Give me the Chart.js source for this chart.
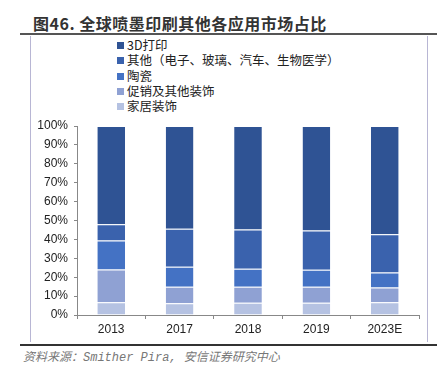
<!DOCTYPE html>
<html>
<head>
<meta charset="utf-8">
<script src="https://cdn.jsdelivr.net/npm/chart.js@4/dist/chart.umd.min.js"></script>
<style>
  body { margin: 0; width: 447px; height: 367px; background: #fff; position: relative; overflow: hidden; font-family: "Noto Sans CJK SC", sans-serif; }
  #title { position: absolute; left: 33px; top: 11px; font-size: 16px; font-weight: bold; color: #333; letter-spacing: 0.5px; white-space: nowrap; }
  #topline { position: absolute; left: 20px; top: 33px; width: 417px; height: 2px; background: #555; }
  #box { position: absolute; left: 30px; top: 36px; width: 396px; height: 306px; border-left: 1px solid #b8b6d4; border-right: 1px solid #b8b6d4; }
  #botline { position: absolute; left: 20px; top: 344px; width: 417px; height: 2px; background: #333; }
  #source { position: absolute; left: 23px; top: 347px; font-size: 12px; font-style: italic; color: #777; white-space: nowrap; font-family: "Liberation Mono", "Noto Sans CJK SC", monospace; }
  #legend { position: absolute; left: 117px; top: 37px; font-size: 12.5px; color: #222; line-height: 15.3px; }
  #legend .sw { display: inline-block; width: 7px; height: 7px; margin-right: 3px; vertical-align: 1px; }
  #wrap { position: absolute; left: 31px; top: 112px; width: 396px; height: 230px; }
</style>
</head>
<body>
<div id="title">图46. 全球喷墨印刷其他各应用市场占比</div>
<div id="topline"></div>
<div id="box"></div>
<div id="legend"></div>
<div id="wrap"><canvas id="c"></canvas></div>
<div id="botline"></div>
<div id="source">资料来源：Smither Pira, 安信证券研究中心</div>
<script>
const years = ['2013', '2017', '2018', '2019', '2023E'];
const homeDecor = [6.7, 6.2, 6.5, 6.5, 6.7];
const promoDecor = [17.4, 8.8, 8.5, 8.5, 7.8];
const ceramics = [15.3, 10.5, 9.5, 9.0, 8.0];
const others = [8.6, 20.2, 20.7, 20.7, 20.2];
const print3D = [52.0, 54.3, 54.8, 55.3, 57.3];
const yTicks = [0, 10, 20, 30, 40, 50, 60, 70, 80, 90, 100];

const series = [
  { label: '家居装饰', data: homeDecor, color: '#b5c2e2' },
  { label: '促销及其他装饰', data: promoDecor, color: '#8fa1d3' },
  { label: '陶瓷', data: ceramics, color: '#4472c4' },
  { label: '其他（电子、玻璃、汽车、生物医学）', data: others, color: '#3a62ad' },
  { label: '3D打印', data: print3D, color: '#2f5394' }
];

// legend listed top-down from the last series
const legend = document.getElementById('legend');
series.slice().reverse().forEach(s => {
  const row = document.createElement('div');
  row.innerHTML = '<span class="sw" style="background:' + s.color + '"></span>' + s.label;
  legend.appendChild(row);
});

const ctx = document.getElementById('c').getContext('2d');
new Chart(ctx, {
  type: 'bar',
  data: {
    labels: years,
    datasets: series.map(s => ({
      label: s.label,
      data: s.data,
      backgroundColor: s.color,
      borderColor: 'rgba(255,255,255,0.25)',
      borderWidth: { top: 1, bottom: 0, left: 0, right: 0 },
      categoryPercentage: 1,
      barPercentage: 0.405
    }))
  },
  options: {
    responsive: true,
    maintainAspectRatio: false,
    animation: false,
    layout: { padding: { top: 14, right: 8, left: 0, bottom: 0 } },
    plugins: { legend: { display: false }, tooltip: { enabled: false } },
    scales: {
      x: {
        stacked: true,
        grid: { display: true, drawOnChartArea: false, offset: true, color: '#888', tickLength: 4 },
        border: { color: '#888' },
        ticks: { color: '#222', font: { family: 'Liberation Sans, Arial', size: 12 }, padding: 3 },
        afterFit: scale => { scale.height = 27; }
      },
      y: {
        stacked: true,
        min: 0,
        max: 100,
        afterBuildTicks: scale => { scale.ticks = yTicks.map(v => ({ value: v })); },
        grid: { display: true, drawOnChartArea: false, color: '#888', tickLength: 3 },
        border: { color: '#888' },
        ticks: { color: '#222', font: { family: 'Liberation Sans, Arial', size: 12 }, padding: 6, callback: v => v + '%' },
        afterFit: scale => { scale.width = 46; }
      }
    }
  }
});
</script>
</body>
</html>
